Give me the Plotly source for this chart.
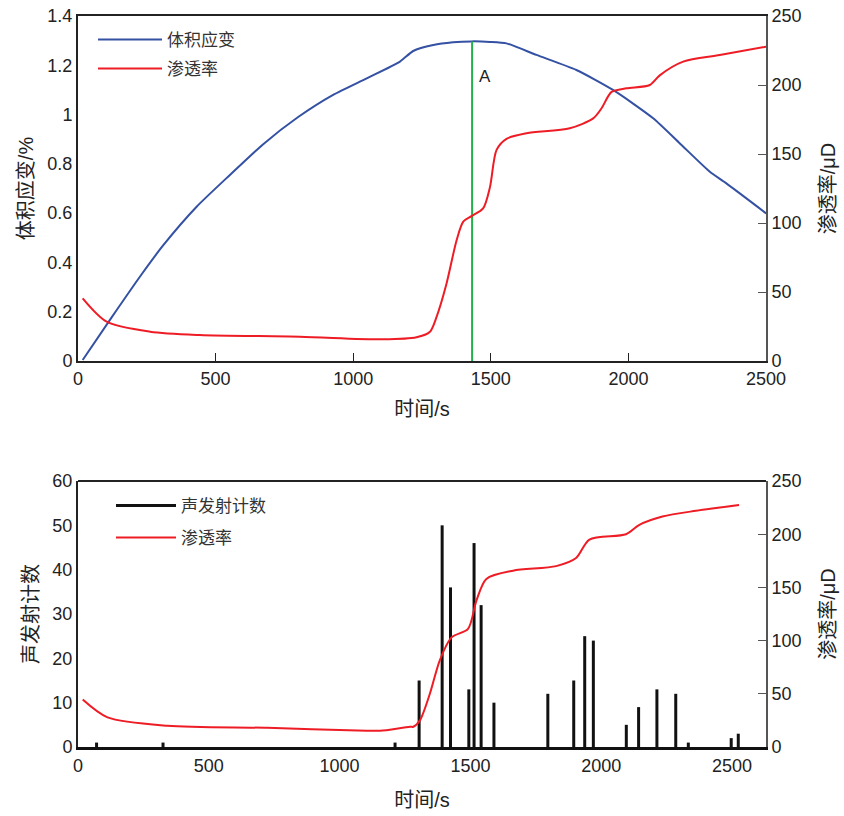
import plotly.graph_objects as go

# ---------- top chart data ----------
strain_t = [17, 121, 230, 310, 431, 552, 673, 800, 927, 1049, 1170, 1218, 1291, 1363, 1430, 1497,
            1557, 1666, 1811, 1944, 2090, 2187, 2296, 2356, 2501]
strain_v = [0.004, 0.175, 0.35, 0.47, 0.626, 0.755, 0.88, 0.99, 1.08, 1.147, 1.215, 1.258, 1.282,
            1.293, 1.297, 1.295, 1.289, 1.242, 1.181, 1.10, 0.985, 0.883, 0.768, 0.721, 0.599]

perm1_t = [17, 104, 262, 443, 806, 1108, 1230, 1279, 1303, 1339, 1376, 1400, 1430, 1472, 1497, 1521,
           1557, 1630, 1787, 1872, 1902, 1939, 1993, 2078, 2114, 2199, 2332, 2501]
perm1_v = [45.4, 28.5, 21.2, 18.8, 17.6, 15.7, 17.2, 21.2, 32, 56, 87.7, 101, 105, 110.6, 126, 153,
           161, 165, 168.6, 175.8, 183, 195, 197.6, 200, 207, 216.9, 221.7, 227.8]

marker_t = [1432, 1432]
marker_v = [0, 1.297]
marker_label = "A"
marker_label_pos = (1478, 1.149)

# ---------- bottom chart data ----------
ae_t = [71, 325, 1212, 1304, 1392, 1424, 1494, 1514, 1541, 1590, 1796, 1895, 1937, 1970,
        2096, 2143, 2213, 2285, 2333, 2497, 2524]
ae_count = [1, 1, 1, 15, 50, 36, 13, 46, 32, 10, 12, 15, 25, 24, 5, 9, 13, 12, 1, 2, 3]

perm2_t = [18, 113, 342, 723, 1104, 1155, 1269, 1282, 1307, 1345, 1383, 1428, 1491, 1523, 1561,
           1663, 1828, 1904, 1955, 2095, 2146, 2234, 2362, 2527]
perm2_v = [44.6, 27.8, 20, 18, 15.3, 15.3, 19, 19, 25, 50, 81.5, 103, 111, 137.6, 158,
           165.7, 170, 177.6, 195, 200, 208.8, 216.6, 222, 227.5]

x_ticks = [0, 500, 1000, 1500, 2000, 2500]
strain_ticks = [0, 0.2, 0.4, 0.6, 0.8, 1, 1.2, 1.4]
perm_ticks = [0, 50, 100, 150, 200, 250]
count_ticks = [0, 10, 20, 30, 40, 50, 60]

BLUE = "#3451a3"
RED = "#ee1c25"
GREEN = "#22b24c"
FONT = "Arial, Liberation Sans, Noto Sans CJK SC, sans-serif"

# build bar segments as vertical lines
bx, by = [], []
for t, c in zip(ae_t, ae_count):
    bx += [t, t, None]
    by += [0, c, None]

fig = go.Figure()
fig.add_trace(go.Scatter(x=strain_t, y=strain_v, mode="lines", name="体积应变",
                         line=dict(color=BLUE, width=2, shape="spline", smoothing=0.6),
                         xaxis="x", yaxis="y", legend="legend"))
fig.add_trace(go.Scatter(x=perm1_t, y=perm1_v, mode="lines", name="渗透率",
                         line=dict(color=RED, width=2, shape="spline", smoothing=0.8),
                         xaxis="x", yaxis="y2", legend="legend2"))
fig.add_trace(go.Scatter(x=marker_t, y=marker_v, mode="lines", showlegend=False,
                         line=dict(color=GREEN, width=2), xaxis="x", yaxis="y"))
fig.add_trace(go.Scatter(x=[marker_label_pos[0]], y=[marker_label_pos[1]], mode="text",
                         text=[marker_label], showlegend=False,
                         textfont=dict(size=17, color="#222", family=FONT),
                         xaxis="x", yaxis="y"))

fig.add_trace(go.Scatter(x=bx, y=by, mode="lines", name="声发射计数",
                         line=dict(color="#111", width=3),
                         xaxis="x2", yaxis="y3", legend="legend3"))
fig.add_trace(go.Scatter(x=perm2_t, y=perm2_v, mode="lines", name="渗透率",
                         line=dict(color=RED, width=2, shape="spline", smoothing=0.8),
                         xaxis="x2", yaxis="y4", legend="legend4"))

tickfont = dict(size=18, color="#222", family=FONT)
titlefont = dict(size=20, color="#222", family=FONT)
legfont = dict(size=17, color="#333", family=FONT)

common = dict(showgrid=False, zeroline=False, tickfont=tickfont, automargin=False,
              ticklabeloverflow="allow")

# plot area: x 78..766, y 16..747 (top panel 16..361, bottom panel 481..747)
PLOT_TOP = 16
PLOT_BOTTOM = 747
PLOT_LEFT = 78
PLOT_W = 688
PLOT_H = PLOT_BOTTOM - PLOT_TOP


def py(pix):
    return (PLOT_BOTTOM - pix) / PLOT_H


def px(pix):
    return (pix - PLOT_LEFT) / PLOT_W


def leg(x, y, w):
    return dict(x=x, y=y, xanchor="left", yanchor="middle", bgcolor="rgba(0,0,0,0)",
                font=legfont, itemwidth=w)


fig.update_layout(
    width=844, height=816,
    margin=dict(l=78, r=78, t=16, b=69),
    paper_bgcolor="white", plot_bgcolor="white",
    font=dict(family=FONT, color="#222"),
    xaxis=dict(domain=[0, 1], range=[0, 2500], tickvals=x_ticks, ticks="inside", ticklen=8,
               tickcolor="#222", showline=True, linecolor="#222", linewidth=2, mirror=True,
               title=dict(text="时间/s", font=titlefont, standoff=14), anchor="y", **common),
    yaxis=dict(domain=[py(361), 1], range=[0, 1.4], tickvals=strain_ticks,
               ticktext=[str(v) for v in strain_ticks], ticks="", showline=True,
               linecolor="#222", linewidth=2,
               title=dict(text="体积应变/%", font=titlefont, standoff=8), anchor="x", **common),
    yaxis2=dict(range=[0, 250], tickvals=perm_ticks, overlaying="y", side="right",
                ticks="inside", ticklen=8, tickcolor="#555", showline=True, linecolor="#555",
                linewidth=2,
                title=dict(text="渗透率/μD", font=titlefont, standoff=20), anchor="x", **common),
    xaxis2=dict(domain=[0, 1], range=[0, 2630], tickvals=x_ticks, ticks="",
                showline=True, linecolor="#111", linewidth=3, mirror=False,
                title=dict(text="时间/s", font=titlefont, standoff=19), anchor="y3", **common),
    yaxis3=dict(domain=[0, py(481)], range=[0, 60], tickvals=count_ticks, ticks="",
                showline=True, linecolor="#222", linewidth=2, anchor="x2",
                title=dict(text="声发射计数", font=titlefont, standoff=8), **common),
    yaxis4=dict(range=[0, 250], tickvals=perm_ticks, overlaying="y3", side="right",
                ticks="inside", ticklen=8, tickcolor="#555", showline=True, linecolor="#555",
                linewidth=2, anchor="x2",
                title=dict(text="渗透率/μD", font=titlefont, standoff=20), **common),
    legend=leg(px(93), py(40), 64),
    legend2=leg(px(93), py(69), 64),
    legend3=leg(px(111), py(506), 60),
    legend4=leg(px(111), py(538), 60),
    showlegend=True,
)

# top frame line for the bottom chart
fig.add_shape(type="line", xref="x2 domain", yref="y3 domain", x0=0, x1=1, y0=1, y1=1,
              line=dict(color="#222", width=2))

fig.write_html("out.html", config={"displayModeBar": False},
               post_script="document.body.style.margin='0px';")
